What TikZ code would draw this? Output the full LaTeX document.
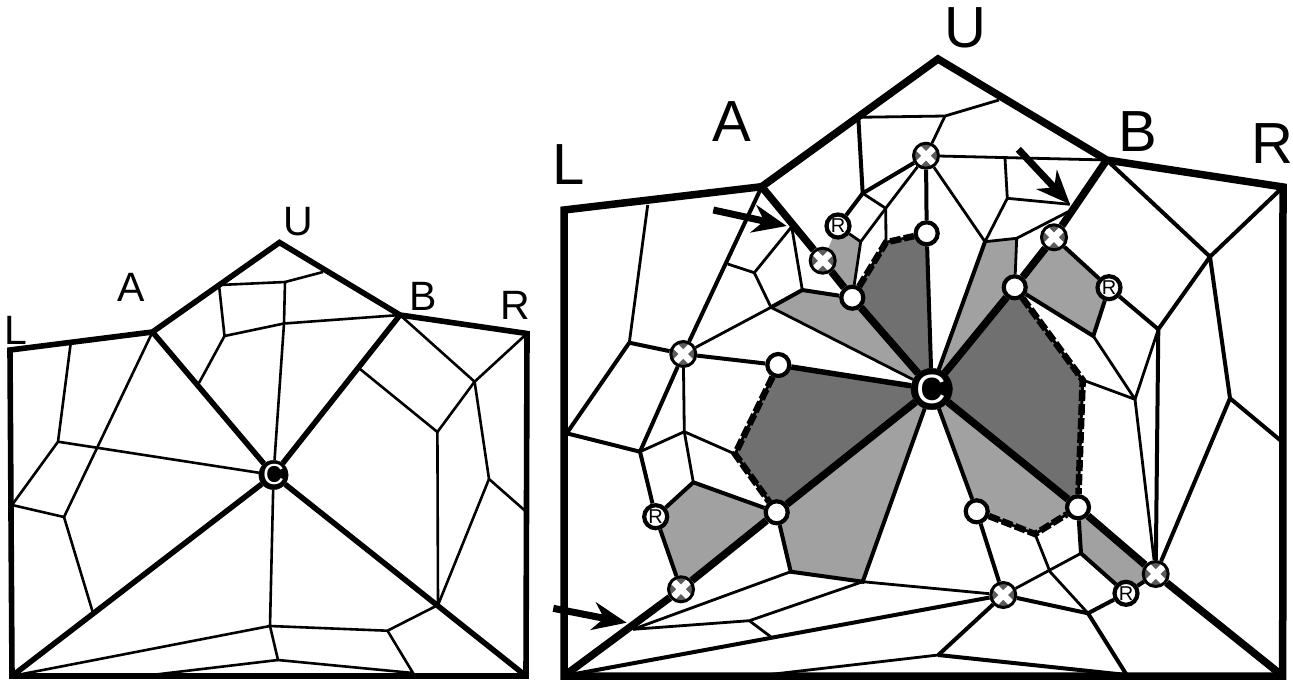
\documentclass[tikz,border=0pt]{standalone}
\usepackage{fontspec}
\setmainfont{Liberation Sans}
\usetikzlibrary{arrows.meta}
\usetikzlibrary{backgrounds}
\definecolor{darkcell}{gray}{0.44}
\definecolor{lightcell}{gray}{0.63}
\definecolor{markgray}{gray}{0.36}

\begin{document}
\begin{tikzpicture}[x=1pt,y=-1pt,line join=miter,
  biglabel/.style={font=\fontsize{58}{58}\selectfont,inner sep=0pt},
  smalllabel/.style={font=\fontsize{41}{41}\selectfont,inner sep=0pt},
  outline/.style={line width=7.5pt},
  spoke/.style={line width=7.5pt},
  medium/.style={line width=4pt},
  fine/.style={line width=2.8pt},
  smallspoke/.style={line width=5.5pt},
  smallfine/.style={line width=2.6pt},
  border/.style={line width=5.6pt},
  dashedge/.style={line width=6.5pt,dash pattern=on 11pt off 3pt},
  center/.style={circle,fill=black,draw=black,text=white,inner sep=0pt,minimum size=37pt,font=\fontsize{41}{41}\selectfont},
  smallcenter/.style={circle,fill=black,draw=black,text=white,inner sep=0pt,minimum size=26pt,font=\fontsize{29}{29}\selectfont},
  open/.style={circle,fill=white,draw=black,line width=4.2pt,inner sep=0pt,minimum size=22pt},
  root/.style={circle,fill=white,draw=black,line width=4.2pt,inner sep=0pt,minimum size=23pt,font=\fontsize{20}{20}\selectfont},
  crossed/.style={circle,fill=markgray,draw=black,line width=3pt,inner sep=0pt,minimum size=25pt,
    path picture={\draw[white,line width=6.5pt] (-8pt,-8pt) -- (8pt,8pt) (-8pt,8pt) -- (8pt,-8pt);}},
  pointer/.style={line width=7pt,-{Stealth[length=34pt,width=28pt,inset=11pt]}}]
\useasboundingbox (0,0) rectangle (1293,681);

% small picture
\coordinate (sL) at (10,350);
\coordinate (sA) at (152.5,332);
\coordinate (sU) at (279.5,242.5);
\coordinate (sB) at (400,315);
\coordinate (sR) at (527,333.5);
\coordinate (sBR) at (526,676);
\coordinate (sBL) at (12,676);
\coordinate (sa) at (219,285);
\coordinate (sb) at (285,282);
\coordinate (sc) at (323,272);
\coordinate (sd) at (224.5,336);
\coordinate (se) at (284,323.5);
\coordinate (sf) at (199,383);
\coordinate (sg) at (70.6,344);
\coordinate (sh) at (58,441.7);
\coordinate (si) at (12,505);
\coordinate (sj) at (64,517);
\coordinate (sk) at (93,613);
\coordinate (sl) at (474.6,381.7);
\coordinate (sm) at (437.4,432);
\coordinate (sn) at (360,369);
\coordinate (so) at (438,605);
\coordinate (sp) at (489,479);
\coordinate (sq) at (525,510.7);
\coordinate (sr) at (270,626);
\coordinate (ss) at (387.5,630.7);
\coordinate (st) at (413,673);
\coordinate (su) at (278,660);
\coordinate (sv) at (151.5,675);
\node[smallcenter] (sC) at (273.5,475) {C};

\draw[smallfine] (sa) -- (sb) -- (sc);
\draw[smallfine] (sa) -- (sd) -- (se) -- (sB);
\draw[smallfine] (sd) -- (sf);
\draw[smallfine] (sb) -- (se) -- (sC);
\draw[smallfine] (sg) -- (sh) -- (si) -- (sj) -- (sk);
\draw[smallfine] (sh) -- (sC);
\draw[smallfine] (sA) -- (sj);
\draw[smallfine] (sB) -- (sl) -- (sR);
\draw[smallfine] (sl) -- (sm) -- (sn);
\draw[smallfine] (sm) -- (so);
\draw[smallfine] (sl) -- (sp) -- (sq);
\draw[smallfine] (sp) -- (so);
\draw[smallfine] (sC) -- (sr) -- (ss) -- (so);
\draw[smallfine] (sBL) -- (sr) -- (su) -- (st) -- (ss);
\draw[smallfine] (su) -- (sv);
\draw[smallspoke] (sA) -- (sC);
\draw[smallspoke] (sB) -- (sC);
\draw[smallspoke] (sBL) -- (sC);
\draw[smallspoke] (sBR) -- (sC);
\draw[border] (sL) -- (sA) -- (sU) -- (sB) -- (sR) -- (sBR) -- (sBL) -- cycle;

\node[smalllabel] (labsL) at (16,330) {L};
\node[smalllabel] (labsA) at (131,287) {A};
\node[smalllabel] (labsU) at (298,222) {U};
\node[smalllabel] (labsB) at (423,296) {B};
\node[smalllabel] (labsR) at (515,305) {R};

% large picture
\coordinate (L) at (564,210);
\coordinate (A) at (761.7,186.7);
\coordinate (U) at (938,59);
\coordinate (B) at (1106.7,160);
\coordinate (R) at (1283,187);
\coordinate (BR) at (1282.7,676);
\coordinate (BL) at (564,676);
\node[center] (C) at (931.7,389) {C};
\node[crossed] (x1) at (926,155.7) {};
\node[crossed] (x2) at (822.7,260.7) {};
\node[crossed] (x3) at (683.3,354) {};
\node[crossed] (x4) at (1054,237.3) {};
\node[crossed] (x5) at (681,589.3) {};
\node[crossed] (x6) at (1003.3,595) {};
\node[crossed] (x7) at (1155.7,574) {};
\node[root] (r1) at (838,226) {R};
\node[root] (r2) at (1109,287.7) {R};
\node[root] (r3) at (655.7,516.7) {R};
\node[root] (r4) at (1126,593.3) {R};
\node[open] (w1) at (852.3,297.7) {};
\node[open] (w2) at (926.7,233.3) {};
\node[open] (w3) at (778.3,365) {};
\node[open] (w4) at (1014.7,287.3) {};
\node[open] (w5) at (776.7,512.3) {};
\node[open] (w6) at (976.7,511.3) {};
\node[open] (w7) at (1078,507.3) {};
\coordinate (a1) at (858.3,117.3);
\coordinate (a2) at (945,116);
\coordinate (a3) at (999,100);
\coordinate (j1) at (862.7,193.3);
\coordinate (j2) at (885.7,208.3);
\coordinate (j3) at (860.7,241.7);
\coordinate (j4) at (886,242.3);
\coordinate (j5) at (727.7,264);
\coordinate (j6) at (754.3,272.7);
\coordinate (j7) at (771,307.3);
\coordinate (j8) at (802.3,290);
\coordinate (apex) at (791.7,226.7);
\coordinate (j9) at (629.3,342.7);
\coordinate (j10) at (566.7,433.3);
\coordinate (j11) at (640,451.7);
\coordinate (j12) at (684.3,431.7);
\coordinate (j13) at (693.3,482.3);
\coordinate (j14) at (735,454);
\coordinate (j15) at (862.7,581.7);
\coordinate (j16) at (790.7,571.7);
\coordinate (j17) at (633,629.3);
\coordinate (j18) at (749.3,620.7);
\coordinate (j19) at (938.3,655);
\coordinate (j20) at (1126.7,675);
\coordinate (j21) at (1088,613.3);
\coordinate (j22) at (1081,553.3);
\coordinate (j23) at (1035,534);
\coordinate (j24) at (1082.7,380);
\coordinate (j25) at (1007.3,198.3);
\coordinate (j26) at (1016.7,238.3);
\coordinate (j27) at (985,241.7);
\coordinate (j28) at (1093.3,336);
\coordinate (j29) at (1158.3,329.3);
\coordinate (j30) at (1210,256.7);
\coordinate (j31) at (1230,398.3);
\coordinate (j32) at (1135,399.3);
\coordinate (la) at (647.7,205);
\coordinate (lb) at (770.7,636.7);
\coordinate (lc) at (756.7,676);
\coordinate (ld) at (1280,440);
\coordinate (le) at (1005,158.3);
\coordinate (lf) at (1070,204.3);
\coordinate (lg) at (1068.3,211.7);
\coordinate (lh) at (1050,571.7);

\begin{scope}[on background layer]
\fill[lightcell] (x2.center) -- (r1.center) -- (j3) -- (w1.center) -- cycle;
\fill[lightcell] (j7) -- (j8) -- (w1.center) -- (C.center) -- cycle;
\fill[lightcell] (j27) -- (j26) -- (w4.center) -- (C.center) -- cycle;
\fill[lightcell] (x4.center) -- (r2.center) -- (j28) -- (w4.center) -- cycle;
\fill[lightcell] (r3.center) -- (j13) -- (w5.center) -- (x5.center) -- cycle;
\fill[lightcell] (w5.center) -- (C.center) -- (j15) -- (j16) -- cycle;
\fill[lightcell] (C.center) -- (w7.center) -- (j23) -- (w6.center) -- cycle;
\fill[lightcell] (w7.center) -- (x7.center) -- (r4.center) -- (j22) -- cycle;
\fill[darkcell] (C.center) -- (w1.center) -- (j4) -- (w2.center) -- cycle;
\fill[darkcell] (C.center) -- (w3.center) -- (j14) -- (w5.center) -- cycle;
\fill[darkcell] (C.center) -- (w4.center) -- (j24) -- (w7.center) -- cycle;
\end{scope}

\draw[fine] (a1) -- (a2) -- (a3);
\draw[fine] (a2) -- (x1);
\draw[medium] (a1) -- (j1);
\draw[medium] (j1) -- (x1);
\draw[medium] (j1) -- (r1);
\draw[fine] (j1) -- (j2) -- (x1);
\draw[fine] (j2) -- (j3) -- (w1);
\draw[fine] (r1) -- (j3);
\draw[fine] (j2) -- (j4);
\draw[fine] (x1) -- (B);
\draw[fine] (x1) -- (j27) -- (j25) -- (le);
\draw[fine] (j25) -- (lf);
\draw[fine] (lg) -- (j26) -- (j27);
\draw[fine] (j26) -- (w4);
\draw[medium] (j27) -- (C);
\draw[medium] (x1) -- (w2);
\draw[medium] (w2) -- (C);
\draw[medium] (A) -- (x3);
\draw[fine] (j5) -- (j6) -- (apex) -- (j8);
\draw[fine] (j6) -- (j7) -- (x3);
\draw[medium] (j7) -- (j8) -- (w1);
\draw[fine] (j7) -- (C);
\draw[medium] (x3) -- (w3);
\draw[smallspoke] (w3) -- (C);
\draw[fine] (la) -- (j9);
\draw[medium] (j9) -- (x3);
\draw[medium] (j9) -- (j10) -- (j11) -- (x3);
\draw[fine] (x3) -- (j12) -- (j13);
\draw[fine] (j11) -- (j12) -- (j14);
\draw[medium] (j11) -- (r3) -- (x5);
\draw[medium] (r3) -- (j13) -- (w5);
\draw[medium] (w5) -- (j16) -- (j15) -- (C);
\draw[fine] (j17) -- (j16);
\draw[fine] (j17) -- (j18) -- (j15);
\draw[fine] (j18) -- (lb);
\draw[fine] (j15) -- (x6);
\draw[medium] (BL) -- (x6);
\draw[fine] (lc) -- (j19);
\draw[medium] (j19) -- (x6);
\draw[medium] (j19) -- (j20);
\draw[medium] (x6) -- (j21) -- (r4);
\draw[medium] (j21) -- (j20);
\draw[fine] (x6) -- (j22);
\draw[medium] (j22) -- (r4);
\draw[medium] (j22) -- (w7);
\draw[medium] (r4) -- (x7);
\draw[medium] (w6) -- (x6);
\draw[medium] (w6) -- (C);
\draw[fine] (j23) -- (lh) -- (j21);
\draw[medium] (x4) -- (r2) -- (j29);
\draw[medium] (w4) -- (j28) -- (r2);
\draw[medium] (B) -- (j30) -- (R);
\draw[medium] (j30) -- (j29) -- (x7);
\draw[medium] (j30) -- (j31) -- (ld);
\draw[medium] (j31) -- (x7);
\draw[fine] (j28) -- (j32) -- (j29);
\draw[fine] (j32) -- (j24);
\draw[fine] (j32) -- (x7);

\draw[fine] (w1) -- (j4) -- (w2);
\draw[dashedge] (w1) -- (j4) -- (w2);
\draw[fine] (w3) -- (j14) -- (w5);
\draw[dashedge] (w3) -- (j14) -- (w5);
\draw[fine] (w4) -- (j24) -- (w7);
\draw[dashedge] (w4) -- (j24) -- (w7);
\draw[fine] (w6) -- (j23) -- (w7);
\draw[dashedge] (w6) -- (j23) -- (w7);

\draw[spoke] (A) -- (x2);
\draw[spoke] (x2) -- (w1);
\draw[spoke] (w1) -- (C);
\draw[spoke] (B) -- (x4);
\draw[spoke] (x4) -- (w4);
\draw[spoke] (w4) -- (C);
\draw[spoke] (C) -- (w7);
\draw[spoke] (w7) -- (x7);
\draw[spoke] (x7) -- (BR);
\draw[spoke] (C) -- (w5);
\draw[spoke] (w5) -- (x5);
\draw[spoke] (x5) -- (BL);
\draw[outline] (L) -- (A) -- (U) -- (B) -- (R) -- (BR) -- (BL) -- cycle;

\coordinate (tail1) at (713.3,210);
\coordinate (tip1) at (786.7,226);
\coordinate (tail2) at (1018.3,149.3);
\coordinate (tip2) at (1070,204.3);
\coordinate (tail3) at (553.3,608.3);
\coordinate (tip3) at (626.7,622.7);
\draw[pointer] (tail1) -- (tip1);
\draw[pointer] (tail2) -- (tip2);
\draw[pointer] (tail3) -- (tip3);

\node[biglabel] (labL) at (569,165) {L};
\node[biglabel] (labA) at (731.7,122) {A};
\node[biglabel] (labU) at (965,28) {U};
\node[biglabel] (labB) at (1138,132) {B};
\node[biglabel] (labR) at (1272,144) {R};
\end{tikzpicture}
\end{document}
